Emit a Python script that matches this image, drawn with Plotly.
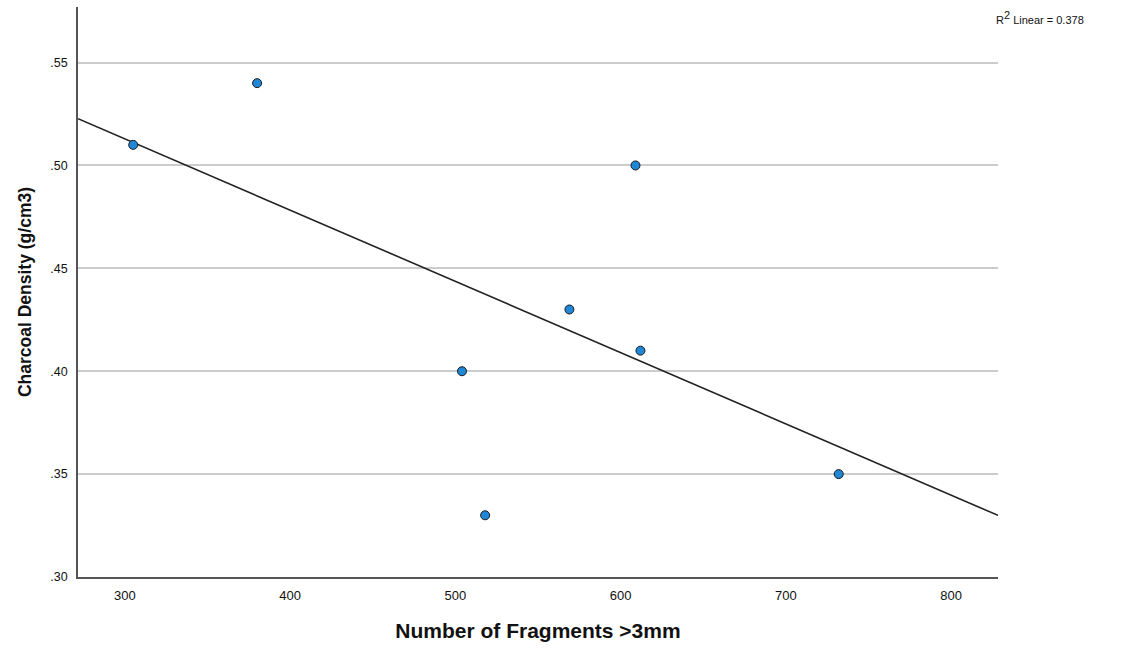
import numpy as np
import plotly.graph_objects as go

# Data
fragments = [305, 380, 609, 569, 612, 504, 518, 732]
density = [0.51, 0.54, 0.50, 0.43, 0.41, 0.40, 0.33, 0.35]
y_ticks = [0.30, 0.35, 0.40, 0.45, 0.50, 0.55]
y_ticklabels = [".30", ".35", ".40", ".45", ".50", ".55"]
x_ticks = [300, 400, 500, 600, 700, 800]

x_range = [271.6, 828.4]
y_range = [0.30, 0.577]

slope, intercept = np.polyfit(fragments, density, 1)
r2 = np.corrcoef(fragments, density)[0, 1] ** 2
line_x = np.array(x_range)
line_y = slope * line_x + intercept

fig = go.Figure()
fig.add_trace(go.Scatter(x=line_x, y=line_y, mode="lines",
                         line=dict(color="#222222", width=1.6),
                         showlegend=False, hoverinfo="skip"))
fig.add_trace(go.Scatter(x=fragments, y=density, mode="markers",
                         marker=dict(size=9, color="#1f87d6",
                                     line=dict(color="#1a1a1a", width=1)),
                         showlegend=False))

font = "Liberation Sans, Arial, sans-serif"
fig.update_layout(
    width=1125, height=650,
    margin=dict(l=78, r=127, t=7, b=73),
    paper_bgcolor="white", plot_bgcolor="white",
    font=dict(family=font, size=13, color="#111111"),
    xaxis=dict(range=x_range, tickvals=x_ticks, showgrid=False, zeroline=False,
               showline=True, linecolor="#555555", linewidth=1.5, ticks="",
               tickfont=dict(size=13), ticklabelstandoff=6,
               title=dict(text="<b>Number of Fragments >3mm</b>", font=dict(size=21), standoff=21)),
    yaxis=dict(range=y_range, tickvals=y_ticks, ticktext=y_ticklabels,
               showgrid=True, gridcolor="#cccccc", gridwidth=1.5, zeroline=False,
               showline=True, linecolor="#555555", linewidth=1.5, ticks="",
               tickfont=dict(size=12.5), ticklabelstandoff=6,
               title=dict(text="<b>Charcoal Density (g/cm3)</b>", font=dict(size=17.5), standoff=14)),
    annotations=[dict(text=f"R<sup><span style='font-size:11px'>2</span></sup> Linear = {r2:.3f}",
                      xref="paper", yref="paper",
                      x=(1086 - 78) / 920, y=0.981, xanchor="right", yanchor="middle",
                      showarrow=False, font=dict(size=11))],
)

fig.write_html("out.html")
